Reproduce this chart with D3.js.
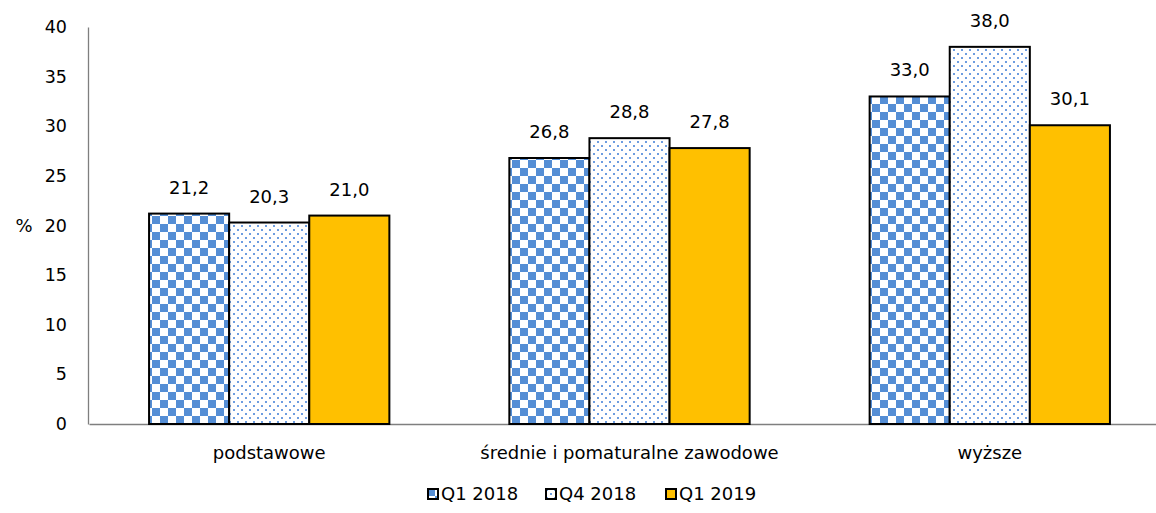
<!DOCTYPE html>
<html><head><meta charset="utf-8">
<script src="https://cdn.jsdelivr.net/npm/d3@7"></script>
<style>body{margin:0;background:#fff}svg{display:block}text{font-family:"DejaVu Sans",sans-serif;fill:#000}</style>
</head><body><svg id="c" width="1156" height="513"></svg>
<script>
const categories = ["podstawowe", "średnie i pomaturalne zawodowe", "wyższe"];
const seriesNames = ["Q1 2018", "Q4 2018", "Q1 2019"];
const q1_2018 = [21.2, 26.8, 33.0];
const q4_2018 = [20.3, 28.8, 38.0];
const q1_2019 = [21.0, 27.8, 30.1];
const yTicks = [0, 5, 10, 15, 20, 25, 30, 35, 40];
const seriesValues = [q1_2018, q4_2018, q1_2019];

const svg = d3.select("#c");
const defs = svg.append("defs");
const chk = defs.append("pattern").attr("id","chk").attr("patternUnits","userSpaceOnUse").attr("width",16).attr("height",16);
chk.append("rect").attr("width",16).attr("height",16).attr("fill","#fff");
chk.append("rect").attr("width",8).attr("height",8).attr("fill","#558ed5");
chk.append("rect").attr("x",8).attr("y",8).attr("width",8).attr("height",8).attr("fill","#558ed5");
const dot = defs.append("pattern").attr("id","dot").attr("patternUnits","userSpaceOnUse").attr("width",8).attr("height",8);
dot.append("rect").attr("width",8).attr("height",8).attr("fill","#fff");
dot.append("rect").attr("x",1).attr("y",1).attr("width",2).attr("height",2).attr("fill","#6d9de0");
dot.append("rect").attr("x",5).attr("y",5).attr("width",2).attr("height",2).attr("fill","#6d9de0");
const fills = ["url(#chk)", "url(#dot)", "#ffc000"];

const x0 = d3.scaleBand().domain(categories).range([89, 1170]).paddingInner(0.333).paddingOuter(0.1667);
const x1 = d3.scaleBand().domain(seriesNames).range([0, x0.bandwidth()]);
const y = d3.scaleLinear().domain([0, 40]).range([424, 27]);

const FS = "18px";
// y axis
const ya = svg.append("g").attr("transform","translate(88,0)")
  .call(d3.axisLeft(y).tickValues(yTicks).tickSize(0).tickPadding(21));
ya.select(".domain").attr("stroke","#7f7f7f").attr("stroke-width",1.3);
ya.selectAll("text").style("font-size","17.5px").attr("fill","#000");
// x axis
const xa = svg.append("g").attr("transform","translate(0,424)")
  .call(d3.axisBottom(x0).tickSize(0).tickPadding(22));
xa.select(".domain").attr("stroke","#7f7f7f").attr("stroke-width",1.3);
xa.selectAll("text").style("font-size",FS).attr("fill","#000");

svg.append("text").attr("x",24).attr("y",y(20)).attr("dy","0.35em").attr("text-anchor","middle").style("font-size",FS).text("%");

const g = svg.append("g");
seriesNames.forEach((s, si) => {
  categories.forEach((c, ci) => {
    const v = seriesValues[si][ci];
    const bx = x0(c) + x1(s);
    g.append("rect").attr("x", bx).attr("y", y(v)).attr("width", x1.bandwidth()).attr("height", y(0) - y(v))
      .attr("fill", fills[si]).attr("stroke", "#000").attr("stroke-width", 2);
    g.append("text").attr("x", bx + x1.bandwidth()/2).attr("y", y(v) - 20).attr("text-anchor","middle")
      .style("font-size",FS).text(d3.format(".1f")(v).replace(".", ","));
  });
});

// legend
const legX = [427, 545, 665];
seriesNames.forEach((s, si) => {
  const lg = svg.append("g").attr("transform", `translate(${legX[si]},488)`);
  lg.append("rect").attr("x",1).attr("y",1).attr("width",10).attr("height",10).attr("fill", fills[si]).attr("stroke","#000").attr("stroke-width",2);
  lg.append("text").attr("x",14).attr("y",6).attr("dy","0.35em").style("font-size",FS).text(s);
});
</script></body></html>
